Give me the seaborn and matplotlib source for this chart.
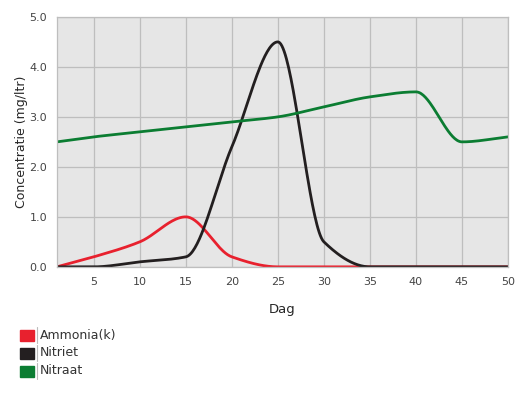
import numpy as np
import pandas as pd
import matplotlib
matplotlib.use("Agg")
import matplotlib.pyplot as plt
import seaborn as sns
from matplotlib.patches import Rectangle
from matplotlib.lines import Line2D

dagen = [1, 5, 10, 15, 20, 25, 30, 35, 40, 45, 50]
ammonia = [0.0, 0.2, 0.5, 1.0, 0.2, 0.0, 0.0, 0.0, 0.0, 0.0, 0.0]
nitriet = [0.0, 0.0, 0.1, 0.2, 2.4, 4.5, 0.5, 0.0, 0.0, 0.0, 0.0]
nitraat = [2.5, 2.6, 2.7, 2.8, 2.9, 3.0, 3.2, 3.4, 3.5, 2.5, 2.6]
series = ["Ammonia(k)", "Nitriet", "Nitraat"]
colors = ["#e8212e", "#231f20", "#0b7d32"]


def monotone(x, y, n=400):
    # Fritsch-Carlson monotone cubic, for the smooth line look
    x = np.asarray(x, float)
    y = np.asarray(y, float)
    h = np.diff(x)
    d = np.diff(y) / h
    m = np.zeros_like(y)
    m[0], m[-1] = d[0], d[-1]
    for i in range(1, len(x) - 1):
        if d[i - 1] * d[i] <= 0:
            m[i] = 0
        else:
            w1 = 2 * h[i] + h[i - 1]
            w2 = h[i] + 2 * h[i - 1]
            m[i] = (w1 + w2) / (w1 / d[i - 1] + w2 / d[i])
    xs = np.linspace(x[0], x[-1], n)
    idx = np.clip(np.searchsorted(x, xs) - 1, 0, len(x) - 2)
    t = (xs - x[idx]) / h[idx]
    h00 = 2 * t**3 - 3 * t**2 + 1
    h10 = t**3 - 2 * t**2 + t
    h01 = -2 * t**3 + 3 * t**2
    h11 = t**3 - t**2
    ys = h00 * y[idx] + h10 * h[idx] * m[idx] + h01 * y[idx + 1] + h11 * h[idx] * m[idx + 1]
    return xs, ys


frames = []
for name, vals in zip(series, [ammonia, nitriet, nitraat]):
    xs, ys = monotone(dagen, vals)
    frames.append(pd.DataFrame({"Dag": xs, "waarde": ys, "reeks": name}))
df = pd.concat(frames)

sns.set_style("white")
fig = plt.figure(figsize=(5.27, 3.93), dpi=100)
ax = fig.add_axes([0.108, 0.321, 0.856, 0.636])
ax.set_facecolor("#e6e6e6")

sns.lineplot(data=df, x="Dag", y="waarde", hue="reeks", palette=colors,
             hue_order=series, linewidth=2, legend=False, ax=ax, sort=False)

ax.set_xlim(1, 50)
ax.set_ylim(0, 5)
ax.set_xticks(range(5, 51, 5))
ax.set_yticks(np.arange(0, 5.1, 1.0))
ax.set_yticklabels([f"{v:.1f}" for v in np.arange(0, 5.1, 1.0)])
ax.grid(True, color="#bebebe", linewidth=0.9)
ax.set_axisbelow(True)
for s in ax.spines.values():
    s.set_color("#bebebe")
    s.set_linewidth(0.9)
ax.tick_params(length=0, labelsize=8, labelcolor="#444444", pad=7)
ax.set_xlabel("Dag", fontsize=9.5, labelpad=12)
ax.set_ylabel("Concentratie (mg/ltr)", fontsize=9, labelpad=1)

# legend below the chart
for i, (name, c) in enumerate(zip(series, colors)):
    yc = 1 - (335 + 18 * i) / 393
    fig.patches.append(Rectangle((20 / 527, yc - 6 / 393), 14 / 527, 11 / 393,
                                 transform=fig.transFigure, color=c))
    fig.lines.append(Line2D([36.5 / 527, 36.5 / 527], [yc - 8 / 393, yc + 8 / 393],
                            transform=fig.transFigure, color="#bbbbbb", linewidth=0.8))
    fig.text(40 / 527, yc, name, fontsize=9, color="#333333", va="center")

fig.savefig("out.png", dpi=100)
